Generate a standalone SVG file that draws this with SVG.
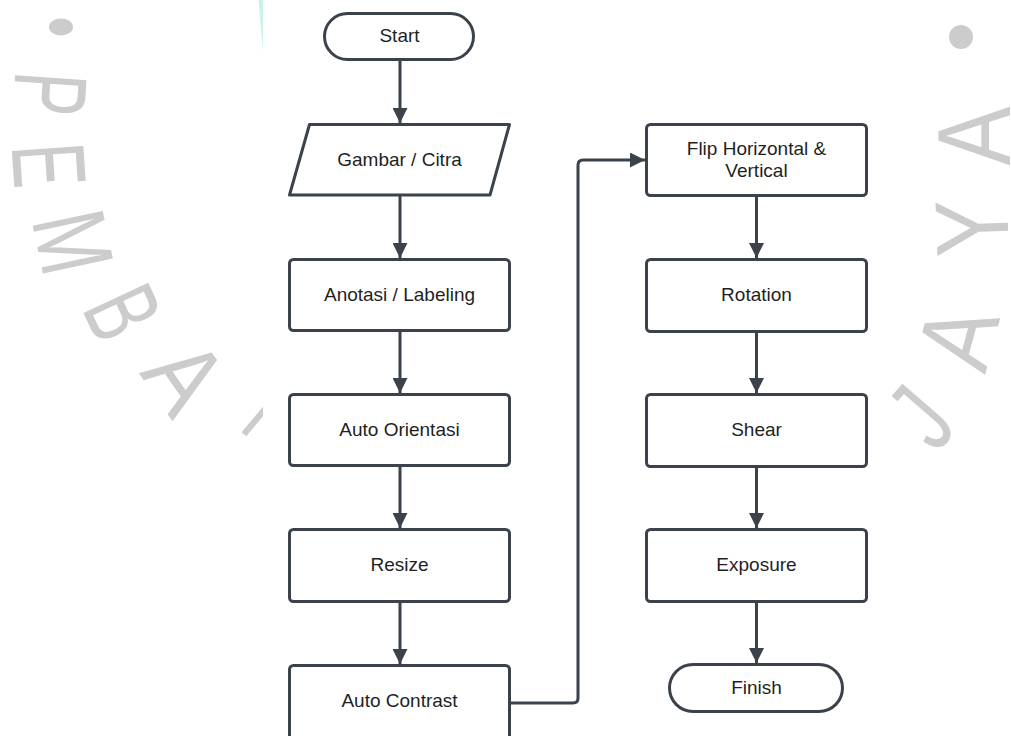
<svg xmlns="http://www.w3.org/2000/svg" width="1011" height="736" viewBox="0 0 1011 736">
  <style>
    .wm { font-family: "Liberation Sans", Arial, sans-serif; font-size: 104px; fill: #cccccc; text-anchor: middle; }
    .shape { fill: #ffffff; stroke: #3b424c; stroke-width: 3; stroke-linejoin: round; }
    .label { font-family: "Liberation Sans", Arial, sans-serif; font-size: 19px; fill: #1f1f1f; text-anchor: middle; }
    .edge { fill: none; stroke: #3b424c; stroke-width: 3; stroke-linejoin: round; marker-end: url(#head); }
  </style>
  <defs>
    <marker id="head" markerUnits="userSpaceOnUse" markerWidth="15" markerHeight="15" refX="15" refY="7.5" orient="auto">
      <path d="M0,0 L15,7.5 L0,15 Z" fill="#3b424c"/>
    </marker>
  </defs>

  <rect width="1011" height="736" fill="#ffffff"/>

  <!-- background watermark lettering on an arc -->
  <g id="watermark">
    <ellipse cx="61" cy="27" rx="12" ry="8.5" fill="#cccccc"/>
    <text class="wm" transform="translate(51,94) rotate(94) scale(0.62,1)" x="0" y="37">P</text>
    <text class="wm" transform="translate(50,165) rotate(86) scale(0.64,1)" x="0" y="37">E</text>
    <text class="wm" transform="translate(74,242) rotate(78) scale(0.7,1)" x="0" y="37">M</text>
    <text class="wm" transform="translate(124,312) rotate(65) scale(0.62,1)" x="0" y="37">B</text>
    <text class="wm" transform="translate(186,376) rotate(55) scale(0.85,1)" x="0" y="37">A</text>
    <text class="wm" transform="translate(281,417) rotate(40) scale(0.7,1)" x="0" y="37">N</text>

    <ellipse cx="961" cy="37" rx="12" ry="12" fill="#cccccc"/>
    <text class="wm" transform="translate(973,136) rotate(-90) scale(0.85,1)" x="0" y="37">A</text>
    <text class="wm" transform="translate(971,228) rotate(-92) scale(0.83,1)" x="0" y="37">Y</text>
    <text class="wm" transform="translate(957,337) rotate(-75) scale(0.85,1)" x="0" y="37">A</text>
    <text class="wm" transform="translate(920,416) rotate(-49) scale(0.7,1)" x="0" y="37">J</text>

    <polygon points="258.5,0 265,0 263.6,52 263,52" fill="#c9f4e4"/>
  </g>

  <!-- white sheet carrying the flowchart -->
  <rect x="263" y="0" width="625" height="736" fill="#ffffff"/>

  <g id="connectors">
    <path class="edge" d="M400,60 V123"/>
    <path class="edge" d="M400,196 V258"/>
    <path class="edge" d="M400,332 V393"/>
    <path class="edge" d="M400,467 V528"/>
    <path class="edge" d="M400,603 V664"/>
    <path class="edge" d="M511,703 H573 Q578,703 578,698 V165 Q578,160 583,160 H645"/>
    <path class="edge" d="M756.5,197 V258"/>
    <path class="edge" d="M756.5,333 V393"/>
    <path class="edge" d="M756.5,468 V528"/>
    <path class="edge" d="M756.5,603 V663"/>
  </g>

  <g id="start">
    <rect class="shape" x="324.5" y="13.5" width="149" height="46" rx="23"/>
    <text class="label" x="399.5" y="42">Start</text>
  </g>

  <g id="gambar-citra">
    <polygon class="shape" points="309.5,124.5 509.5,124.5 490,195 289.5,195"/>
    <text class="label" x="399.5" y="166">Gambar / Citra</text>
  </g>

  <g id="anotasi-labeling">
    <rect class="shape" x="289.5" y="259.5" width="220" height="71" rx="4"/>
    <text class="label" x="399.5" y="301">Anotasi / Labeling</text>
  </g>

  <g id="auto-orientasi">
    <rect class="shape" x="289.5" y="394.5" width="220" height="71" rx="4"/>
    <text class="label" x="399.5" y="436">Auto Orientasi</text>
  </g>

  <g id="resize">
    <rect class="shape" x="289.5" y="529.5" width="220" height="72" rx="4"/>
    <text class="label" x="399.5" y="571">Resize</text>
  </g>

  <g id="auto-contrast">
    <rect class="shape" x="289.5" y="665.5" width="220" height="100" rx="4"/>
    <text class="label" x="399.5" y="707">Auto Contrast</text>
  </g>

  <g id="flip">
    <rect class="shape" x="646.5" y="124.5" width="220" height="71" rx="4"/>
    <text class="label" x="756.5" y="155">Flip Horizontal &amp;</text>
    <text class="label" x="756.5" y="177">Vertical</text>
  </g>

  <g id="rotation">
    <rect class="shape" x="646.5" y="259.5" width="220" height="72" rx="4"/>
    <text class="label" x="756.5" y="301">Rotation</text>
  </g>

  <g id="shear">
    <rect class="shape" x="646.5" y="394.5" width="220" height="72" rx="4"/>
    <text class="label" x="756.5" y="436">Shear</text>
  </g>

  <g id="exposure">
    <rect class="shape" x="646.5" y="529.5" width="220" height="72" rx="4"/>
    <text class="label" x="756.5" y="571">Exposure</text>
  </g>

  <g id="finish">
    <rect class="shape" x="669.5" y="664.5" width="173" height="47" rx="23.5"/>
    <text class="label" x="756.5" y="694">Finish</text>
  </g>
</svg>
